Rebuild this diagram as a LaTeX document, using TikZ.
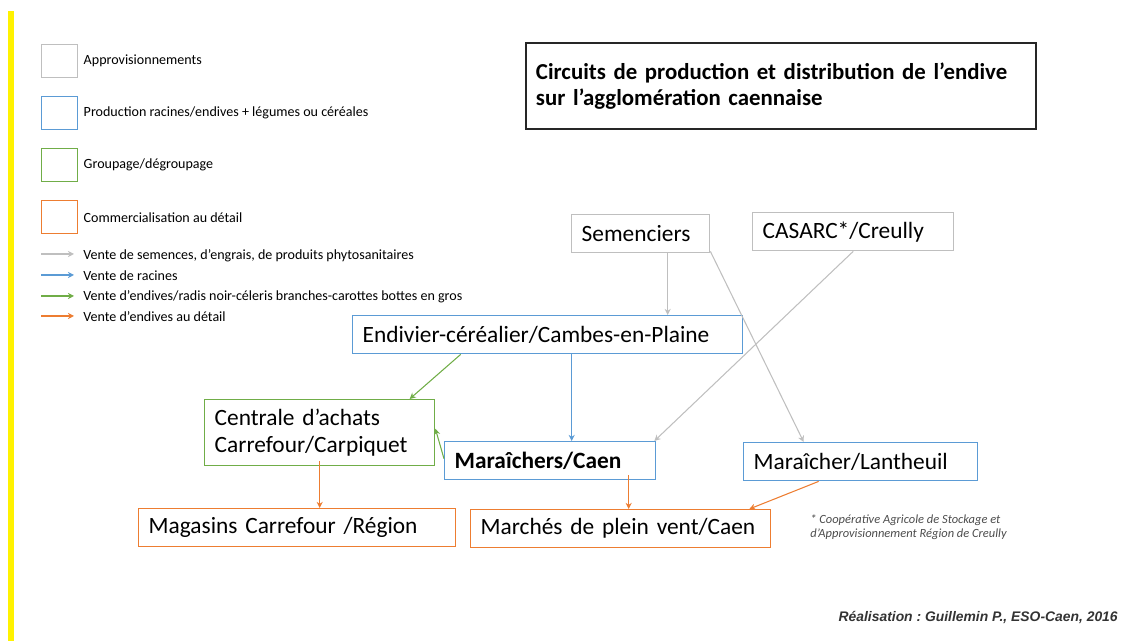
\documentclass[tikz,border=0pt]{standalone}
\usepackage{fontspec}
\setmainfont{Carlito}
\newfontfamily\creditfont{Liberation Sans}
\usetikzlibrary{arrows.meta,positioning}

\definecolor{supgray}{RGB}{191,191,191}
\definecolor{prodblue}{RGB}{91,155,213}
\definecolor{grpgreen}{RGB}{112,173,71}
\definecolor{retorange}{RGB}{237,125,49}

\tikzset{
  box/.style={draw, line width=0.8pt, anchor=north west, align=left,
    inner xsep=0.2cm, inner ysep=0pt, minimum height=0.76cm,
    font=\fontsize{13.3}{15.5}\selectfont},
  legbox/.style={draw, line width=0.8pt, anchor=north west,
    minimum width=0.72cm, minimum height=0.66cm, inner sep=0pt},
  legtext/.style={anchor=west, inner sep=0pt, font=\fontsize{8}{9}\selectfont},
  flow/.style={line width=0.6pt, -{Stealth[length=3.5pt,width=3.5pt]}}
}

\begin{document}
\frenchspacing
\begin{tikzpicture}[x=0.02cm, y=-0.02cm]
  \useasboundingbox (0,0) rectangle (1134,641);

  % yellow bar on the left
  \fill[yellow] (8,11) rectangle (14,641);

  % Legend boxes
  \node[legbox, supgray] (lb1) at (41,44) {};
  \node[legtext, right=0.1cm of lb1] (lt1) {Approvisionnements};
  \node[legbox, prodblue] (lb2) at (41,96) {};
  \node[legtext, right=0.1cm of lb2] (lt2) {Production racines/endives + légumes ou céréales};
  \node[legbox, grpgreen] (lb3) at (41,148) {};
  \node[legtext, right=0.1cm of lb3] (lt3) {Groupage/dégroupage};
  \node[legbox, retorange] (lb4) at (41,200) {};
  \node[legtext, right=0.1cm of lb4] (lt4) {Commercialisation au détail};

  % Legend arrows
  \node[legtext] (la1) at (83,256) {Vente de semences, d'engrais, de produits phytosanitaires};
  \node[legtext] (la2) at (83,276) {Vente de racines};
  \node[legtext] (la3) at (83,297) {Vente d'endives/radis noir-céleris branches-carottes bottes en gros};
  \node[legtext] (la4) at (83,317) {Vente d'endives au détail};
  \coordinate (ls1) at (41,254);
  \coordinate (ls2) at (41,275);
  \coordinate (ls3) at (41,296);
  \coordinate (ls4) at (41,316);
  \draw[flow, supgray] (ls1) -- (ls1 -| 74,0);
  \draw[flow, prodblue] (ls2) -- (ls2 -| 74,0);
  \draw[flow, grpgreen] (ls3) -- (ls3 -| 74,0);
  \draw[flow, retorange] (ls4) -- (ls4 -| 74,0);

  % Title
  \node[box, black!85, text=black, line width=1.1pt, text width=9.8cm,
    minimum height=1.72cm, font=\fontsize{13}{15}\selectfont\bfseries] (title) at (525,42)
    {Circuits de production et distribution de l’endive\\sur l’agglomération caennaise};

  % Supply boxes
  \node[box, supgray, text=black, text width=2.36cm] (sem) at (571,214) {Semenciers};
  \node[box, supgray, text=black, text width=3.62cm] (casarc) at (752,212) {CASARC*/Creully};

  % Producers
  \node[box, prodblue, text=black, text width=7.4cm] (endiv) at (352,315) {Endivier-céréalier/Cambes-en-Plaine};
  \node[box, prodblue, text=black, text width=3.82cm, font=\fontsize{13.3}{15.5}\selectfont\bfseries] (mara) at (444,441) {Maraîchers/Caen};
  \node[box, prodblue, text=black, text width=4.28cm] (lant) at (743,442) {Maraîcher/Lantheuil};

  % Grouping
  \node[box, grpgreen, text=black, text width=4.2cm, minimum height=1.32cm] (centr) at (204,399) {Centrale d’achats\\Carrefour/Carpiquet};

  % Retail
  \node[box, retorange, text=black, text width=5.94cm] (maga) at (138,508) {Magasins Carrefour /Région};
  \node[box, retorange, text=black, text width=5.6cm] (march) at (470,509) {Marchés de plein vent/Caen};

  % Gray flows
  \draw[flow, supgray] ([xshift=0.54cm]sem.south) -- ([xshift=0.54cm]sem.south |- endiv.north);
  \draw[flow, supgray] ([yshift=0.04cm]sem.south east) -- ([xshift=-1.14cm]lant.north);
  \draw[flow, supgray] (casarc.south) -- ([xshift=-0.04cm]mara.north east);

  % Blue flow
  \draw[flow, prodblue] ([xshift=0.48cm]endiv.south) -- ([xshift=0.48cm]endiv.south |- mara.north);

  % Green flows
  \draw[flow, grpgreen] ([xshift=-1.74cm]endiv.south) -- ([xshift=1.8cm]centr.north);
  \draw[flow, grpgreen] ([yshift=0.04cm]mara.west) -- ([yshift=0.08cm]centr.east);

  % Orange flows
  \draw[flow, retorange] ([yshift=0.1cm]centr.south) -- (centr.south |- maga.north);
  \draw[flow, retorange] ([xshift=1.57cm,yshift=0.1cm]mara.south) -- ([xshift=1.57cm]mara.south |- march.north);
  \draw[flow, retorange] ([xshift=-0.84cm]lant.south) -- ([xshift=-0.44cm]march.north east);

  % Footnote and credit
  \node[anchor=north west, align=left, inner sep=0pt, text=black!70,
    font=\fontsize{7.1}{8}\itshape] (note) at (810,514)
    {* Coopérative Agricole de Stockage et\\d’Approvisionnement Région de Creully};
  \node[anchor=east, inner sep=0pt, text=black!80,
    font=\creditfont\fontsize{7.9}{9}\selectfont\bfseries\itshape] (credit) at (1118,617)
    {Réalisation : Guillemin P., ESO-Caen, 2016};
\end{tikzpicture}
\end{document}
